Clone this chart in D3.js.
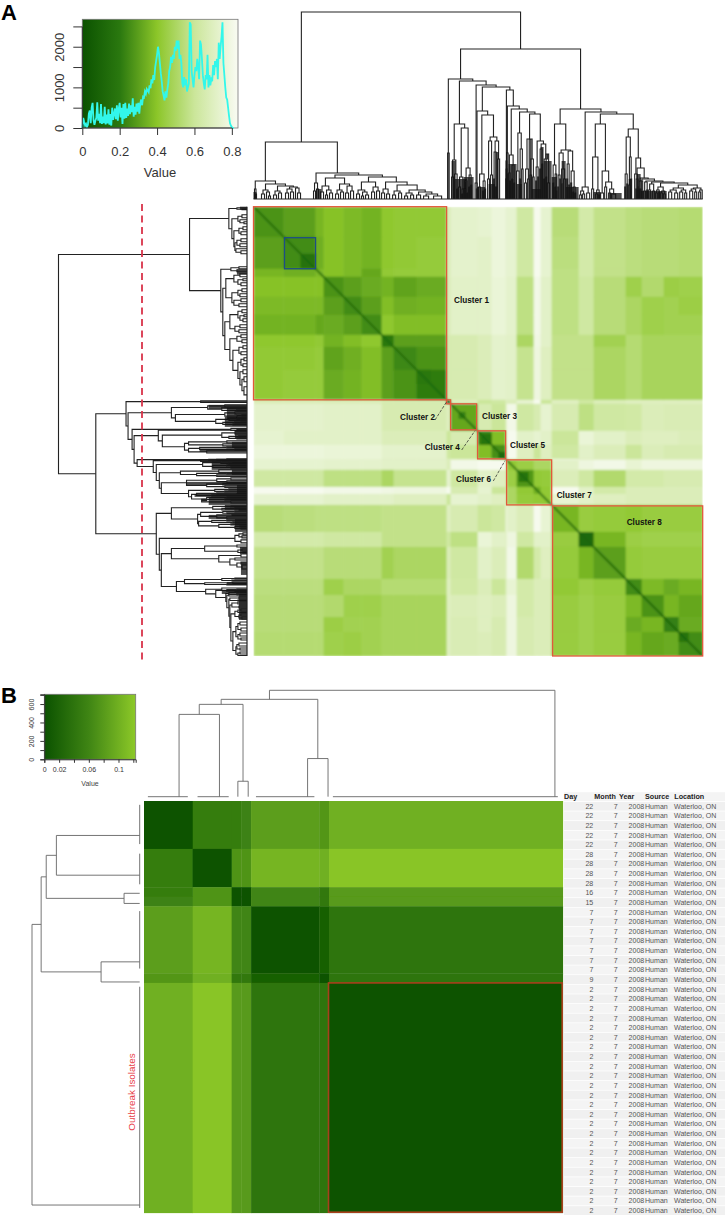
<!DOCTYPE html>
<html>
<head>
<meta charset="utf-8">
<script src="https://cdnjs.cloudflare.com/ajax/libs/d3/7.8.5/d3.min.js"></script>
<style>
  body { margin: 0; background: #fff; }
  svg { display: block; }
  text { font-family: "Liberation Sans", Arial, sans-serif; }
</style>
</head>
<body>
<svg id="viz"></svg>
<script>
// panel A histogram, counts per 0.005 bin
const histBinA = 0.005;
const histCountsA = [0,250,150,60,100,30,80,350,430,120,500,620,200,80,180,250,630,180,350,120,590,100,280,120,520,90,330,110,460,80,340,60,
  500,200,350,480,220,560,180,470,620,260,500,100,590,230,620,250,480,300,600,340,560,390,730,280,520,330,600,400,620,350,600,700,560,770,750,
  900,840,960,920,880,1050,980,1200,1100,1300,1180,1500,1650,1800,2000,1850,1600,1350,1150,900,800,680,900,750,950,1100,1400,1500,1750,1600,
  1800,1700,2000,1900,2150,1950,2150,1700,1800,1600,1100,1000,1250,1050,1200,900,1000,1100,2600,2550,1400,1200,1000,1300,1500,1400,1700,1500,
  1200,2150,2050,1700,1300,1100,950,1300,1200,1800,1000,1300,1050,1200,1150,1550,1300,1650,1500,1700,1200,2100,1700,2000,2250,2600,1600,1300,
  1000,750,700,500,300,120,60,20,0,0];
const histTicksXA = [0, 0.2, 0.4, 0.6, 0.8];
const histTicksYA = [0, 500, 1000, 1500, 2000, 2500];
const histLabelsYA = [0, 1000, 2000];

// panel A heat map, blocks along the matrix order (0-449) and lower triangle of values
const heatEdgesA = [0,30,62,70,90,108,128,140,163,193,197,224,238,252,253,263,280,287,298,325,340,372,388,410,425,449];
const heatRowsA = [
  [.27],
  [.3,.25],
  [.36,.34,.37],
  [.39,.39,.39,.27],
  [.37,.37,.37,.3,.25],
  [.35,.35,.32,.33,.3,.25],
  [.41,.41,.42,.35,.38,.41,.2],
  [.42,.42,.43,.31,.34,.38,.3,.24],
  [.42,.43,.43,.33,.35,.38,.3,.27,.21],
  [.68,.68,.68,.68,.68,.68,.66,.66,.66,.05],
  [.73,.73,.73,.72,.72,.72,.66,.66,.66,.7,.32],
  [.74,.72,.72,.72,.72,.72,.68,.68,.68,.6,.66,.24],
  [.77,.77,.77,.76,.76,.76,.73,.73,.73,.62,.6,.38,.26],
  [.74,.74,.74,.74,.74,.74,.72,.72,.72,.7,.7,.6,.5,.15],
  [.74,.74,.74,.73,.73,.73,.72,.72,.72,.68,.8,.82,.82,.7,.42],
  [.62,.62,.62,.56,.56,.56,.5,.58,.58,.74,.62,.72,.7,.7,.45,.28],
  [.82,.82,.82,.8,.8,.8,.79,.78,.78,.82,.66,.74,.6,.7,.5,.42,.34],
  [.74,.74,.74,.72,.72,.72,.72,.7,.7,.6,.74,.72,.7,.7,.5,.43,.42,.42],
  [.54,.55,.56,.56,.56,.56,.57,.57,.57,.7,.66,.6,.62,.8,.72,.68,.82,.75,.36],
  [.64,.64,.64,.62,.62,.62,.57,.57,.57,.62,.56,.76,.72,.7,.78,.62,.72,.72,.44,.12],
  [.57,.57,.57,.54,.54,.54,.47,.5,.5,.68,.62,.72,.68,.7,.8,.52,.64,.7,.43,.36,.3],
  [.55,.55,.55,.46,.5,.5,.53,.53,.53,.7,.63,.68,.6,.7,.75,.64,.68,.68,.42,.45,.43,.25],
  [.54,.54,.54,.52,.46,.46,.49,.49,.49,.7,.68,.7,.68,.7,.78,.64,.68,.68,.44,.46,.44,.37,.27],
  [.54,.54,.54,.45,.47,.47,.49,.49,.49,.7,.67,.7,.66,.7,.78,.66,.68,.68,.44,.46,.44,.33,.36,.22],
  [.53,.53,.53,.46,.45,.47,.49,.49,.49,.7,.67,.68,.66,.7,.78,.66,.68,.68,.44,.46,.44,.36,.32,.33,.25]
];
// darker squares and the dark diagonal inside the clusters [from, to, value]
const heatInnerA = [[47,62,.17],[163,177,.2],[205,212,.22],[227,238,.18],[245,252,.12],[265,275,.18],[425,435,.18]];
const heatDiagA = [[0,193,.12],[197,224,.1],[224,252,.12],[253,298,.12],[298,449,.1]];

const clusterBoxesA = [[0,193],[193,197],[197,223],[224,252],[253,298],[299,449]];
const selectedBoxA = [31,62];
const clusterNames = ["Cluster 1","Cluster 2","Cluster 3","Cluster 4","Cluster 5","Cluster 6","Cluster 7","Cluster 8"];
const clusterLabelX = [454,400,482,424.7,510,456,556.7,626.7];
const clusterLabelY = [300,416.7,416,447.3,444.7,479,495,522];
const clusterLeaders = [[435,420,446.7,401.7],[461.7,450,475,430.7],[493.3,481,505,460.7]];

// panel A dendrogram: [height, left, right], a bare number is a leaf position
const treeA = [187,
  [57,
    [18,
      [10,1,[5,2,3]],
      [15,[9,[5,8,11],[7,13,[3,15,17]]],[13,[8,[4,20,23],[6,25,28]],[12,[10,[6,32,35],[7,37,40]],[11,42,[6,44,47]]]]]
    ],
    [26,
      [16,[8,60,62],[10,63,65]],
      [24,
        [21,[13,[7,67,70],[9,[4,72,74],[6,76,79]]],[15,[9,[5,82,85],[7,87,90]],[13,[6,92,95],[8,97,100]]]],
        [22,[17,[9,[5,103,106],[7,[3,108,110],[4,112,115]]],[12,[7,118,121],[8,123,126]]],
          [17,[10,[6,128,131],[5,133,136]],[14,[8,[4,139,142],[6,145,148]],[9,[6,[3,151,154],[4,157,160]],[7,[4,163,167],[5,[3,170,175],[3,180,188]]]]]]]
      ]
    ]
  ],
  [150,
    [120,
      [46,194,195.5],
      [118,
        [75,
          [39,[22,198,200],[25,201,[10,203,204]]],
          [71,[22,[12,205,207],[10,[5,208,209],210]],[31,[18,[10,211,212],[6,213,214]],[24,[12,215,216],[14,217,218]]]]
        ],
        [114,
          [16,221.5,223.5],
          [112,
            [88,
              [10,222.8,224],
              [84,
                [25,[12,225,227],[18,[8,229,230],[10,231,232]]],
                [62,[58,[20,234,236],[24,237,239]],[58,[47,[20,240,241],[12,242,243]],[40,244,246]]]
              ]
            ],
            [109,
              [38,[20,252,252.7],[15,253,253.5]],
              [93,
                [46,[30,252.5,253.5],[25,254,255]],
                [90,
                  [44,[26,[14,254.5,255.5],[18,256,257]],[34,[20,258,259],[16,260,261]]],
                  [87,
                    [66,[28,263,265.5],[50,[20,266,267],[30,268,269.5]]],
                    [85,
                      [60,[30,[16,271,273],[20,274,275.5]],[40,[24,276.5,278],[22,279,280.5]]],
                      [58,[32,[18,282,283],[22,284,285]],[55,[50,[30,286,287],[35,288,289]],[40,[20,290,291],[45,[22,292,293],[16,294,296]]]]]
                    ]
                  ]
                ]
              ]
            ]
          ]
        ]
      ]
    ],
    [90,
      [75,
        [34,[16,299,300],[25,[12,301,302],[8,302.5,303.5]]],
        [49,
          [46,[24,[12,304,305],[20,306,306.8]],[30,[15,307.5,308.5],[20,310,312]]],
          [48,[35,[20,313,314],[14,315,316]],[28,[16,317,318],[12,[7,319,320],[6,321,322]]]]
        ]
      ],
      [87,
        [12,[8,[4,326,328],[5,329,331]],[6,333,336]],
        [85,
          [75,
            [42,[10,338,340],[9,[5,342,344],[4,345,346]]],
            [28,[6,347,350],[17,[12,351,353],[10,[6,355,357],[5,358,362]]]]
          ],
          [70,
            [62,[25,[12,371,372],[15,373,374]],[42,[14,375,376.5],[20,377,378]]],
            [41,
              [25,381,383.5],
              [31,
                [20,[10,382,383],[12,384,384.6]],
                [21,
                  [18,[10,385,386],[10,387,388]],
                  [20,
                    [18,387.5,389],
                    [18,
                      [17,[8,390,392],[9,393,394]],
                      [17,
                        [15,[9,395,397],[8,399,401]],
                        [16,
                          [12,[9,[6,402,404],[7,405,406]],[8,[6,407,409],[5,410,412]]],
                          [14,[11,[9,[7,415,418],[6,421,424]],[9,[7,426,429],[6,431,433]]],[11,[10,[8,436,439],[7,441,443]],[9,[7,445,447],448.5]]]
                        ]
                      ]
                    ]
                  ]
                ]
              ]
            ]
          ]
        ]
      ]
    ]
  ]
];
// tips too dense to separate [from, to, height]
const denseBandsA = [[0,3,7],[63,68,10],[194.7,195.7,46],[198,202,38],[200.7,213,20],[210,220,22],[223.3,231.7,12],[235,241,15],[241.7,245,47],
  [252.7,254,47],[255,263,35],[263,268,15],[275,278,60],[278,287,10],[287,290,52],[290,298,38],[298,303,22],[308,312,38],[312,325,12],
  [340,347,7],[355,368,6],[375,377.5,20],[383,387,25],[387,413,8]];

// panel B histogram
const histBinsB = [0.018,0.04,0.047,0.053,0.06,0.063,0.08,0.085,0.088,0.107,0.11,0.1225];
const histCountsB = [15,340,50,60,15,15,65,50,70,245,55,180];
const histTicksXB = [0,0.02,0.04,0.06,0.08,0.1,0.12];
const histLabelsXB = [0,0.02,0.06,0.1];
const histTicksYB = [0,100,200,300,400,500,600,700];
const histLabelsYB = [0,200,400,600];

// panel B heat map, groups of isolates and lower triangle of values
const groupSizesB = [5,4,1,1,7,1,24];
const heatRowsB = [
  [0],
  [.05,0],
  [.05,.074,0],
  [.056,.074,0,0],
  [.083,.105,.06,.06,0],
  [.076,.1,.045,.045,.016,0],
  [.1,.12,.08,.08,.04,.04,0]
];
const outbreakBoxB = [19,43];
const treeB = [106,[97,[92,[82,3.6,7.75],[15.4,9.64,10.7]],[38,16.8,18.9]],42.2];
const leafRunsB = [[.4,4.5],[5.5,8.7],[11.5,17.5],[19.4,42.5]];

// isolate table
const tableColumns = ["Day","Month","Year","Source","Location"];
const dayValues = [22,22,22,22,22,28,28,28,28,16,15,7,7,7,7,7,7,7,9,2,2,2,2,2,2,2,2,2,2,2,2,2,2,2,2,2,2,2,2,2,2,2,2];
const monthValue = "7", yearValue = "2008", sourceValue = "Human", locationValue = "Waterloo, ON";

const colorValuesA = [0,.2,.4,.6,.83];
const colorRangeA = ["#0b5200","#2a780f","#8cc629","#cbe69a","#f8fbf2"];
const colorValuesB = [0,.06,.1225];
const colorRangeB = ["#0b5200","#3f8514","#8cc828"];

const app = {
  init() {
    this.svg = d3.select("#viz").attr("width", 725).attr("height", 1215);
    const defs = this.svg.append("defs");
    defs.append("filter").attr("id","soft").append("feGaussianBlur").attr("stdDeviation",0.9);
    defs.append("filter").attr("id","softer").append("feGaussianBlur").attr("stdDeviation",0.35);

    this.colorA = d3.scaleLinear().domain(colorValuesA).range(colorRangeA);
    this.colorB = d3.scaleLinear().domain(colorValuesB).range(colorRangeB);

    this.panelLetters();
    this.histA();
    this.histB();
    this.heatA();
    this.heatB();
    this.table();
  },

  panelLetters() {
    this.svg.selectAll(".letter").data([["A",1,20],["B",1,703]]).enter().append("text")
      .attr("x", d => d[1]).attr("y", d => d[2]).text(d => d[0])
      .style("font-weight", 700).style("font-size", "22px");
  },

  gradient(id, color, domain) {
    const grad = this.svg.select("defs").append("linearGradient").attr("id", id);
    domain.forEach(v => grad.append("stop").attr("offset", v / domain[domain.length - 1]).attr("stop-color", color(v)));
  },

  histFrame(x, y, fill) {
    const [x0, x1] = x.range(), [y0, y1] = y.range();
    this.svg.append("rect").attr("x", x0).attr("y", y1).attr("width", x1 - x0).attr("height", y0 - y1)
      .attr("fill", fill).attr("stroke", "#777").attr("stroke-width", 0.8);
  },

  styleAxis(g, size) {
    g.selectAll("path").attr("stroke", "#333");
    g.selectAll("line").attr("stroke", "#333");
    g.selectAll("text").style("font-size", size + "px").attr("fill", "#333");
  },

  histA() {
    const x = d3.scaleLinear().domain([0, 0.833]).range([82.3, 238]);
    const y = d3.scaleLinear().domain([0, 2675]).range([128, 19.3]);
    this.gradient("gradA", this.colorA, [0, .2, .4, .6, .833]);
    this.histFrame(x, y, "url(#gradA)");

    const line = d3.line().x((d, i) => x(i * histBinA)).y(d => y(d));
    this.svg.append("path").attr("d", line(histCountsA)).attr("fill", "none")
      .attr("stroke", "#33f7ea").attr("stroke-width", 1.8).attr("filter", "url(#softer)");

    const ax = this.svg.append("g").attr("transform", "translate(0,128)")
      .call(d3.axisBottom(x).tickValues(histTicksXA).tickSize(7).tickPadding(12).tickFormat(d => d));
    ax.select(".domain").attr("d", "M82.3,0H232");
    this.styleAxis(ax, 13);
    const ay = this.svg.append("g").attr("transform", "translate(82.3,0)")
      .call(d3.axisLeft(y).tickValues(histTicksYA).tickSize(9).tickFormat(d => histLabelsYA.includes(d) ? d : ""));
    ay.select(".domain").attr("d", "M0,128V26.7");
    this.styleAxis(ay, 13);
    ay.selectAll("text").attr("transform", "rotate(-90)").attr("text-anchor", "middle").attr("x", 0).attr("dy", 0).attr("y", -18);

    this.svg.append("text").attr("x", 160).attr("y", 177).attr("text-anchor", "middle")
      .text("Value").style("font-size", "13px").attr("fill", "#333");
  },

  histB() {
    const x = d3.scaleLinear().domain([0, 0.1232]).range([44.3, 135.7]);
    const y = d3.scaleLinear().domain([0, 706]).range([759.3, 694.3]);
    this.gradient("gradB", this.colorB, [0, .06, .1232]);
    this.histFrame(x, y, "url(#gradB)");

    this.svg.append("g").selectAll("line").data(histCountsB).enter().append("line")
      .attr("x1", (d, i) => x(histBinsB[i])).attr("x2", (d, i) => x(histBinsB[i]))
      .attr("y1", y(0)).attr("y2", d => y(d))
      .attr("stroke", "#55e8b4").attr("stroke-width", 1).attr("filter", "url(#softer)");

    const ax = this.svg.append("g").attr("transform", "translate(0,759.3)")
      .call(d3.axisBottom(x).tickValues(histTicksXB).tickSize(3.5).tickPadding(4).tickFormat(d => histLabelsXB.includes(d) ? d : ""));
    this.styleAxis(ax, 7);
    const ay = this.svg.append("g").attr("transform", "translate(44.3,0)")
      .call(d3.axisLeft(y).tickValues(histTicksYB).tickSize(4).tickFormat(d => histLabelsYB.includes(d) ? d : ""));
    this.styleAxis(ay, 7);
    ay.selectAll("text").attr("transform", "rotate(-90)").attr("text-anchor", "middle").attr("x", 0).attr("dy", 0).attr("y", -10);

    this.svg.append("text").attr("x", 90).attr("y", 786).attr("text-anchor", "middle")
      .text("Value").style("font-size", "7px").attr("fill", "#444");
  },

  // walks [height, left, right] and returns one bracket per merge, parent x is the middle of its children
  brackets(tree) {
    const out = [];
    const walk = node => {
      if (typeof node === "number") return {pos: node, h: 0};
      const a = walk(node[1]), b = walk(node[2]);
      out.push({a: a, b: b, h: node[0]});
      return {pos: (a.pos + b.pos) / 2, h: node[0]};
    };
    walk(tree);
    return out;
  },

  drawTree(tree, pos, height, horizontal, stroke, width) {
    const pt = (u, h) => horizontal ? `${pos(u)},${height(h)}` : `${height(h)},${pos(u)}`;
    const g = this.svg.append("g").attr("filter", "url(#softer)");
    g.selectAll("path").data(this.brackets(tree)).enter().append("path")
      .attr("d", d => `M${pt(d.a.pos, d.a.h)}L${pt(d.a.pos, d.h)}L${pt(d.b.pos, d.h)}L${pt(d.b.pos, d.b.h)}`)
      .attr("fill", "none").attr("stroke", stroke).attr("stroke-width", width);
    return g;
  },

  drawBands(g, pos, height, horizontal) {
    g.selectAll("rect").data(denseBandsA).enter().append("rect")
      .attr(horizontal ? "x" : "y", d => pos(d[0]))
      .attr(horizontal ? "width" : "height", d => pos(d[1]) - pos(d[0]))
      .attr(horizontal ? "y" : "x", d => height(d[2]))
      .attr(horizontal ? "height" : "width", d => height(0) - height(d[2]))
      .attr("fill", "#111").attr("opacity", 0.75);
  },

  heatA() {
    const x = d3.scaleLinear().domain([0, 449]).range([253.5, 702.7]);
    const y = d3.scaleLinear().domain([0, 449]).range([206.7, 656]);
    const cells = [];
    heatRowsA.forEach((row, i) => row.forEach((v, j) => {
      cells.push({r: i, c: j, v: v});
      if (i !== j) cells.push({r: j, c: i, v: v});
    }));

    // a clip keeps the blur from spilling over the matrix edge
    this.svg.select("defs").append("clipPath").attr("id", "clipA").append("rect")
      .attr("x", x(0)).attr("y", y(0)).attr("width", x(449) - x(0)).attr("height", y(449) - y(0));
    const g = this.svg.append("g").attr("clip-path", "url(#clipA)").append("g").attr("filter", "url(#soft)");
    g.selectAll(".cell").data(cells).enter().append("rect").attr("class", "cell")
      .attr("x", d => x(heatEdgesA[d.c])).attr("y", d => y(heatEdgesA[d.r]))
      .attr("width", d => x(heatEdgesA[d.c + 1]) - x(heatEdgesA[d.c]) + 0.4)
      .attr("height", d => y(heatEdgesA[d.r + 1]) - y(heatEdgesA[d.r]) + 0.4)
      .attr("fill", d => this.colorA(d.v));
    g.selectAll(".inner").data(heatInnerA).enter().append("rect").attr("class", "inner")
      .attr("x", d => x(d[0])).attr("y", d => y(d[0]))
      .attr("width", d => x(d[1]) - x(d[0])).attr("height", d => y(d[1]) - y(d[0]))
      .attr("fill", d => this.colorA(d[2]));
    g.selectAll(".diag").data(heatDiagA).enter().append("line").attr("class", "diag")
      .attr("x1", d => x(d[0])).attr("y1", d => y(d[0])).attr("x2", d => x(d[1])).attr("y2", d => y(d[1]))
      .attr("stroke", d => this.colorA(d[2])).attr("stroke-width", 1.8);

    // cluster outlines
    this.svg.append("g").selectAll("rect").data(clusterBoxesA).enter().append("rect")
      .attr("x", d => x(d[0])).attr("y", d => y(d[0]))
      .attr("width", d => x(d[1]) - x(d[0])).attr("height", d => y(d[1]) - y(d[0]))
      .attr("fill", "none").attr("stroke", "#e2583a").attr("stroke-width", 1.3);
    this.svg.append("rect").attr("x", x(selectedBoxA[0])).attr("y", y(selectedBoxA[0]))
      .attr("width", x(selectedBoxA[1]) - x(selectedBoxA[0])).attr("height", y(selectedBoxA[1]) - y(selectedBoxA[0]))
      .attr("fill", "none").attr("stroke", "#1d4d86").attr("stroke-width", 1.3);

    this.svg.append("g").selectAll("line").data(clusterLeaders).enter().append("line")
      .attr("x1", d => d[0]).attr("y1", d => d[1]).attr("x2", d => d[2]).attr("y2", d => d[3])
      .attr("stroke", "#222").attr("stroke-width", 0.7).attr("stroke-dasharray", "3,1.5");
    this.svg.append("g").selectAll("text").data(clusterNames).enter().append("text")
      .attr("x", (d, i) => clusterLabelX[i]).attr("y", (d, i) => clusterLabelY[i]).attr("dy", "0.35em")
      .text(d => d).style("font-size", "8.2px").style("font-weight", 700).attr("fill", "#111");

    // same tree on both sides of the matrix
    const hTop = d3.scaleLinear().domain([0, 187]).range([199, 12]);
    const hLeft = d3.scaleLinear().domain([0, 187]).range([247, 58.5]);
    const top = this.drawTree(treeA, x, hTop, true, "#222", 1.1);
    this.drawBands(top, x, hTop, true);
    const left = this.drawTree(treeA, y, hLeft, false, "#222", 1.1);
    this.drawBands(left, y, hLeft, false);
    this.svg.append("line").attr("x1", x(0)).attr("x2", x(449)).attr("y1", 199).attr("y2", 199).attr("stroke", "#222").attr("stroke-width", 1.2);
    this.svg.append("line").attr("x1", 247).attr("x2", 247).attr("y1", y(0)).attr("y2", y(449)).attr("stroke", "#222").attr("stroke-width", 1.2);

    // cut height
    this.svg.append("line").attr("x1", 142).attr("x2", 142).attr("y1", 204).attr("y2", 661)
      .attr("stroke", "#d9334a").attr("stroke-width", 1.8).attr("stroke-dasharray", "7,4.5");
  },

  heatB() {
    const x = d3.scaleLinear().domain([0, 43]).range([144, 562.7]);
    const y = d3.scaleLinear().domain([0, 43]).range([801, 1212.7]);
    const starts = d3.cumsum([0].concat(groupSizesB));
    const cells = [];
    heatRowsB.forEach((row, i) => row.forEach((v, j) => {
      cells.push({r: i, c: j, v: v});
      if (i !== j) cells.push({r: j, c: i, v: v});
    }));

    this.svg.append("g").attr("filter", "url(#softer)").selectAll("rect").data(cells).enter().append("rect")
      .attr("x", d => x(starts[d.c])).attr("y", d => y(starts[d.r]))
      .attr("width", d => x(starts[d.c + 1]) - x(starts[d.c]) + 0.4)
      .attr("height", d => y(starts[d.r + 1]) - y(starts[d.r]) + 0.4)
      .attr("fill", d => this.colorB(d.v));

    this.svg.append("rect").attr("x", x(outbreakBoxB[0]) - 0.5).attr("y", y(outbreakBoxB[0]))
      .attr("width", x(outbreakBoxB[1]) - x(outbreakBoxB[0])).attr("height", y(outbreakBoxB[1]) - y(outbreakBoxB[0]) - 0.5)
      .attr("fill", "none").attr("stroke", "#a8401c").attr("stroke-width", 1.6);

    const hTop = d3.scaleLinear().domain([0, 106]).range([796.7, 690.3]);
    const hLeft = d3.scaleLinear().domain([0, 106]).range([139.7, 32]);
    this.drawTree(treeB, x, hTop, true, "#666", 0.9);
    this.drawTree(treeB, y, hLeft, false, "#666", 0.9);
    this.svg.append("g").selectAll("line").data(leafRunsB).enter().append("line")
      .attr("x1", d => x(d[0])).attr("x2", d => x(d[1])).attr("y1", 796.7).attr("y2", 796.7)
      .attr("stroke", "#666").attr("stroke-width", 0.9);
    this.svg.append("g").selectAll("line").data(leafRunsB).enter().append("line")
      .attr("x1", 139.7).attr("x2", 139.7).attr("y1", d => y(d[0])).attr("y2", d => y(d[1]))
      .attr("stroke", "#666").attr("stroke-width", 0.9);

    this.svg.append("text").attr("transform", "translate(134.5,1092) rotate(-90)").attr("text-anchor", "middle")
      .text("Outbreak Isolates").style("font-size", "9.9px").attr("fill", "#e8404a");
  },

  table() {
    const rows = d3.scaleBand().domain(d3.range(44)).range([792.2, 1215]).paddingInner(0.08);
    const headerX = [564, 594.3, 619, 645, 674.3];
    const t = this.svg.append("g");
    t.selectAll("rect").data(d3.range(44)).enter().append("rect")
      .attr("x", 564).attr("width", 161).attr("y", d => rows(d)).attr("height", rows.bandwidth())
      .attr("fill", d => d % 2 ? "#f0f0f0" : "#f4f4f4");
    t.selectAll(".head").data(tableColumns).enter().append("text").attr("class", "head")
      .attr("x", (d, i) => headerX[i]).attr("y", rows(0) + rows.bandwidth() / 2).attr("dy", "0.35em")
      .text(d => d).style("font-size", "7.2px").style("font-weight", 700).attr("fill", "#222");

    const cell = (values, xPos, anchor) => t.append("g").selectAll("text").data(values).enter().append("text")
      .attr("x", xPos).attr("y", (d, i) => rows(i + 1) + rows.bandwidth() / 2).attr("dy", "0.35em")
      .attr("text-anchor", anchor).text(d => d).style("font-size", "7.05px").attr("fill", "#555");
    cell(dayValues, 593.3, "end");
    cell(dayValues.map(() => monthValue), 617.7, "end");
    cell(dayValues.map(() => yearValue), 644.3, "end");
    cell(dayValues.map(() => sourceValue), 645, "start");
    cell(dayValues.map(() => locationValue), 674, "start");
  }
};

window.addEventListener("DOMContentLoaded", () => app.init());
</script>
</body>
</html>
